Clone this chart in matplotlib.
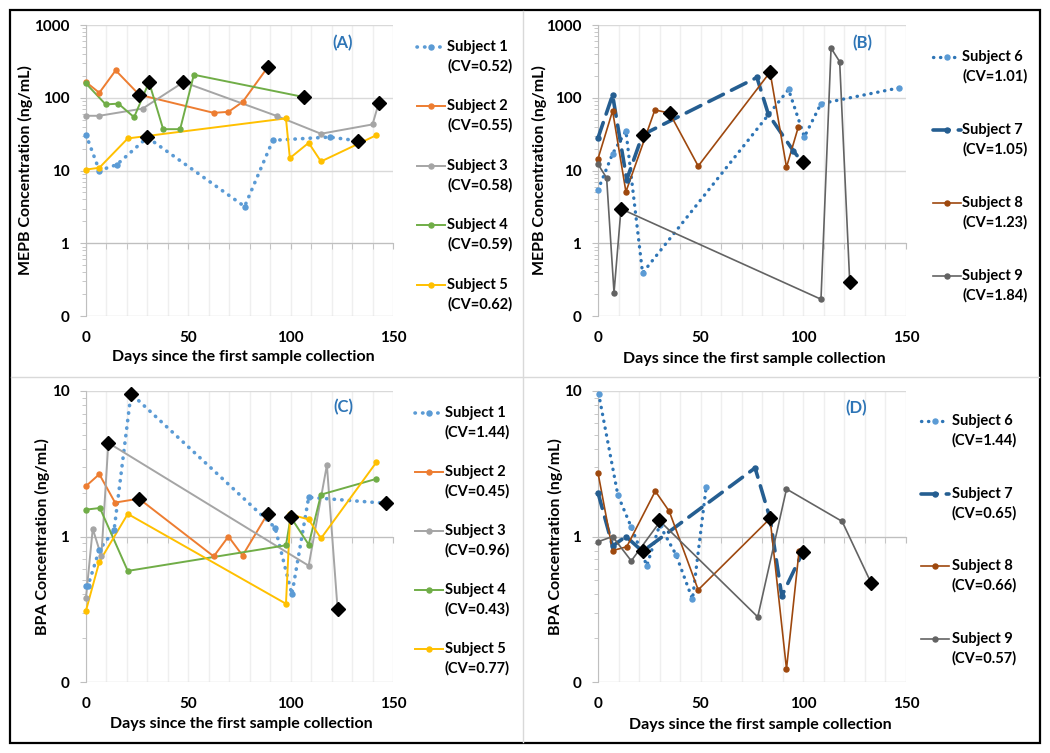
import numpy as np
import matplotlib
matplotlib.use('Agg')
from matplotlib import pyplot as plt
from matplotlib.ticker import FuncFormatter, LogLocator, MultipleLocator, NullFormatter
from matplotlib.patches import Rectangle
from matplotlib.lines import Line2D

plt.rcParams['font.family'] = ['Lato', 'DejaVu Sans']
plt.rcParams['font.weight'] = 'bold'
plt.rcParams['axes.labelweight'] = 'bold'
plt.rcParams['font.size'] = 10.5

# ---- data (A) MEPB, subjects 1-5 ----
a1_days = [0, 6.5, 15, 30, 77.5, 91.3, 119, 132.7]
a1_vals = [31, 10, 12, 28.5, 3.2, 26, 28.8, 25.6]
a2_days = [0, 6.5, 14.5, 26, 62.4, 69.6, 76.6, 88.7]
a2_vals = [164, 117, 238, 110, 62, 64, 88, 261]
a3_days = [0, 6.5, 27.7, 47.6, 93.3, 114.8, 140, 143]
a3_vals = [56.5, 56.5, 71, 164, 56, 32, 43, 84]
a4_days = [0, 9.6, 15.8, 23.5, 30.8, 37.7, 46, 52.7, 106.6]
a4_vals = [157, 81, 83, 54, 164, 37, 37, 207, 102]
a5_days = [0, 6.5, 20.4, 97.7, 99.6, 108.8, 114.8, 141.9]
a5_vals = [10.3, 10.9, 27.6, 52, 14.8, 24, 13.3, 30.6]
a_dia_days = [26, 30.8, 30, 47.6, 88.7, 106.6, 132.7, 143]
a_dia_vals = [110, 164, 28.5, 164, 261, 102, 25.6, 84]
a_cv = ['0.52', '0.55', '0.58', '0.59', '0.62']

# ---- data (B) MEPB, subjects 6-9 ----
b6_days = [0, 7.1, 13.6, 21.7, 92.8, 100.5, 108.6, 146.8]
b6_vals = [5.4, 17, 35, 0.39, 130, 29, 83, 137]
b7_days = [0, 7.1, 14, 21.7, 77.4, 83, 95.2, 99.6]
b7_vals = [28, 109, 7.5, 31, 190, 59, 18.5, 12.9]
b8_days = [0, 7.1, 13.6, 27.7, 34.9, 48.8, 83.8, 91.8, 97.6]
b8_vals = [14.5, 66, 5.1, 68, 61.5, 11.5, 225, 11.1, 40]
b9_days = [0, 4.2, 7.8, 11.2, 108.6, 113.5, 117.7, 122.6]
b9_vals = [12.2, 7.9, 0.21, 2.97, 0.17, 482, 313, 0.29]
b_dia_days = [11.2, 21.7, 34.9, 83.8, 99.6, 122.6]
b_dia_vals = [2.97, 31, 61.5, 225, 12.9, 0.29]
b_cv = ['1.01', '1.05', '1.23', '1.84']

# ---- data (C) BPA, subjects 1-5 ----
c1_days = [0, 1, 6.5, 13.7, 22, 92.4, 100.6, 108.8, 146.7]
c1_vals = [0.46, 0.46, 0.81, 1.1, 9.6, 1.15, 0.40, 1.86, 1.69]
c2_days = [0, 6.5, 14.2, 25.9, 62.4, 69.6, 76.5, 88.7]
c2_vals = [2.22, 2.68, 1.71, 1.82, 0.73, 1.0, 0.74, 1.43]
c3_days = [0, 3.3, 7.5, 10.9, 108.8, 117.7, 122.9]
c3_vals = [0.38, 1.13, 0.73, 4.4, 0.63, 3.1, 0.32]
c4_days = [0, 6.8, 20.4, 97.7, 100, 108.8, 114.8, 141.9]
c4_vals = [1.53, 1.57, 0.58, 0.87, 1.36, 0.88, 1.94, 2.49]
c5_days = [0, 6.5, 20.4, 97.7, 99.8, 108.8, 114.8, 141.9]
c5_vals = [0.31, 0.67, 1.43, 0.345, 1.42, 1.31, 0.97, 3.24]
c_dia_days = [10.9, 22, 25.9, 88.7, 100, 122.9, 146.7]
c_dia_vals = [4.4, 9.6, 1.82, 1.43, 1.36, 0.32, 1.69]
c_cv = ['1.44', '0.45', '0.96', '0.43', '0.77']

# ---- data (D) BPA, subjects 6-9 ----
d6_days = [0.3, 9.7, 16.2, 23.8, 30, 38, 46, 52.7]
d6_vals = [9.6, 1.92, 1.16, 0.63, 1.2, 0.75, 0.37, 2.2]
d7_days = [0, 7.1, 13.6, 21.7, 76.5, 83.8, 89.5, 99.7]
d7_vals = [2.0, 0.86, 1.0, 0.79, 2.96, 1.33, 0.39, 0.78]
d8_days = [0, 7.1, 14, 27.9, 34.7, 48.8, 83.8, 91.8, 97.9]
d8_vals = [2.74, 0.8, 0.85, 2.05, 1.49, 0.43, 1.33, 0.123, 0.79]
d9_days = [0, 7.1, 16.2, 30.3, 77.8, 91.8, 118.9, 133]
d9_vals = [0.92, 1.0, 0.68, 1.27, 0.28, 2.12, 1.27, 0.48]
d_dia_days = [21.7, 29.8, 83.8, 99.7, 133]
d_dia_vals = [0.79, 1.29, 1.33, 0.78, 0.48]
d_cv = ['1.44', '0.65', '0.66', '0.57']

subj_a = ['Subject 1', 'Subject 2', 'Subject 3', 'Subject 4', 'Subject 5']
subj_b = ['Subject 6', 'Subject 7', 'Subject 8', 'Subject 9']

# line styles per subject
dotted = (0, (0.1, 2.0))
styles = {
    'Subject 1': dict(color='#5B9BD5', ls=dotted, lw=2.6, mc='#5B9BD5'),
    'Subject 2': dict(color='#ED7D31', ls='-', lw=1.4, mc='#ED7D31'),
    'Subject 3': dict(color='#A5A5A5', ls='-', lw=1.4, mc='#A5A5A5'),
    'Subject 4': dict(color='#70AD47', ls='-', lw=1.4, mc='#70AD47'),
    'Subject 5': dict(color='#FFC000', ls='-', lw=1.4, mc='#FFC000'),
    'Subject 6': dict(color='#2E75B6', ls=dotted, lw=2.4, mc='#5B9BD5'),
    'Subject 7': dict(color='#255E91', ls=(0, (4.5, 2.5)), lw=2.6, mc='#255E91'),
    'Subject 8': dict(color='#9E480E', ls='-', lw=1.2, mc='#9E480E'),
    'Subject 9': dict(color='#636363', ls='-', lw=1.2, mc='#636363'),
}


def draw_series(ax, name, days, vals):
    st = styles[name]
    ax.plot(days, vals, color=st['color'], ls=st['ls'], lw=st['lw'],
            dash_capstyle='round', zorder=3, clip_on=False)
    ax.plot(days, vals, 'o', color=st['mc'], ms=3.6, zorder=4, clip_on=False)


def draw_key(ax, name, cv, y, x0, x1, xt, dy):
    st = styles[name]
    ax.plot([x0, x1], [y, y], transform=ax.transAxes, clip_on=False,
            color=st['color'], ls=st['ls'], lw=st['lw'], dash_capstyle='round')
    ax.plot([(x0 + x1) / 2], [y], 'o', transform=ax.transAxes, clip_on=False,
            color=st['mc'], ms=3.6)
    ax.text(xt, y, name, transform=ax.transAxes, va='center', ha='left')
    ax.text(xt, y - dy, '(CV=' + cv + ')', transform=ax.transAxes, va='center', ha='left')


def setup(ax, ymax, ylabel, tag, tagpos, ylab_x, xlab_x, xlab_y):
    ax.set_xlim(0, 150)
    ax.set_yscale('log')
    ax.set_ylim(0.1, ymax)
    ax.spines['top'].set_visible(False)
    ax.spines['right'].set_visible(False)
    ax.spines['left'].set_color('#BFBFBF')
    ax.spines['bottom'].set_color('#BFBFBF')
    ax.spines['bottom'].set_position(('data', 1))
    ax.xaxis.set_major_locator(MultipleLocator(50))
    ax.xaxis.set_minor_locator(MultipleLocator(10))
    ax.tick_params(axis='x', which='both', direction='out', length=4,
                   color='#BFBFBF', labelbottom=False)
    ax.yaxis.set_major_locator(LogLocator(base=10, numticks=10))
    ax.yaxis.set_minor_locator(LogLocator(base=10, subs=np.arange(2, 10), numticks=10))
    ax.yaxis.set_major_formatter(FuncFormatter(lambda v, p: f'{v:.0f}'))
    ax.yaxis.set_minor_formatter(NullFormatter())
    ax.tick_params(axis='y', which='major', direction='out', length=4,
                   color='#BFBFBF', pad=8, labelsize=11)
    ax.tick_params(axis='y', which='minor', direction='out', length=3, color='#BFBFBF')
    ax.grid(axis='y', which='major', color='#D9D9D9', lw=1)
    ax.grid(axis='x', which='both', color='#EFEFEF', lw=1)
    ax.set_axisbelow(True)

    sec = ax.secondary_xaxis('bottom')
    sec.set_xticks([0, 50, 100, 150])
    sec.tick_params(length=0, pad=11, labelsize=11)
    sec.spines['bottom'].set_visible(False)

    ax.set_xlabel('Days since the first sample collection', fontsize=11.5)
    ax.xaxis.set_label_coords(xlab_x, xlab_y)
    ax.set_ylabel(ylabel, fontsize=11.5)
    ax.yaxis.set_label_coords(ylab_x, 0.5)
    ax.text(tagpos[0], tagpos[1], tag, transform=ax.transAxes, color='#2E75B6',
            ha='center', va='center', fontsize=12)


fig = plt.figure(figsize=(10.5, 7.53), dpi=100)
W, H = 1050, 753


def add_ax(left, top, right, bottom):
    return fig.add_axes([left / W, 1 - bottom / H, (right - left) / W, (bottom - top) / H])


axA = add_ax(86, 25, 393, 316)
axB = add_ax(598, 25, 906, 316)
axC = add_ax(86, 391, 393, 682)
axD = add_ax(598, 391, 906, 682)

# panel A
setup(axA, 1000, 'MEPB Concentration (ng/mL)', '(A)', (0.837, 0.938), -0.173, 0.514, -0.117)
for name, d, v in zip(subj_a, [a1_days, a2_days, a3_days, a4_days, a5_days],
                      [a1_vals, a2_vals, a3_vals, a4_vals, a5_vals]):
    draw_series(axA, name, d, v)
axA.plot(a_dia_days, a_dia_vals, 'D', color='black', ms=7, zorder=6, clip_on=False)
for i, (name, cv) in enumerate(zip(subj_a, a_cv)):
    draw_key(axA, name, cv, 0.925 - i * 0.2045, 1.078, 1.169, 1.176, 0.066)

# panel B
setup(axB, 1000, 'MEPB Concentration (ng/mL)', '(B)', (0.858, 0.938), -0.165, 0.506, -0.124)
for name, d, v in zip(subj_b, [b6_days, b7_days, b8_days, b9_days],
                      [b6_vals, b7_vals, b8_vals, b9_vals]):
    draw_series(axB, name, d, v)
axB.plot(b_dia_days, b_dia_vals, 'D', color='black', ms=7, zorder=6, clip_on=False)
for i, (name, cv) in enumerate(zip(subj_b, b_cv)):
    draw_key(axB, name, cv, 0.891 - i * 0.251, 1.089, 1.177, 1.183, 0.066)

# panel C
setup(axC, 10, 'BPA Concentration (ng/mL)', '(C)', (0.837, 0.945), -0.117, 0.506, -0.120)
for name, d, v in zip(subj_a, [c1_days, c2_days, c3_days, c4_days, c5_days],
                      [c1_vals, c2_vals, c3_vals, c4_vals, c5_vals]):
    draw_series(axC, name, d, v)
axC.plot(c_dia_days, c_dia_vals, 'D', color='black', ms=7, zorder=6, clip_on=False)
for i, (name, cv) in enumerate(zip(subj_a, c_cv)):
    draw_key(axC, name, cv, 0.924 - i * 0.2027, 1.072, 1.163, 1.169, 0.066)

# panel D
setup(axD, 10, 'BPA Concentration (ng/mL)', '(D)', (0.839, 0.942), -0.113, 0.526, -0.124)
for name, d, v in zip(subj_b, [d6_days, d7_days, d8_days, d9_days],
                      [d6_vals, d7_vals, d8_vals, d9_vals]):
    draw_series(axD, name, d, v)
axD.plot(d_dia_days, d_dia_vals, 'D', color='black', ms=7, zorder=6, clip_on=False)
for i, (name, cv) in enumerate(zip(subj_b, d_cv)):
    draw_key(axD, name, cv, 0.897 - i * 0.2497, 1.05, 1.138, 1.148, 0.066)

# outer frame and panel separators
fig.add_artist(Rectangle((10 / W, 1 - 743 / H), 1030 / W, 733 / H, fill=False,
                         ec='black', lw=1.6, transform=fig.transFigure))
fig.add_artist(Line2D([523 / W, 523 / W], [1 - 11 / H, 1 - 742 / H], color='#D9D9D9', lw=1))
fig.add_artist(Line2D([11 / W, 1039 / W], [1 - 377 / H, 1 - 377 / H], color='#D9D9D9', lw=1))

fig.savefig('out.png', dpi=100)
